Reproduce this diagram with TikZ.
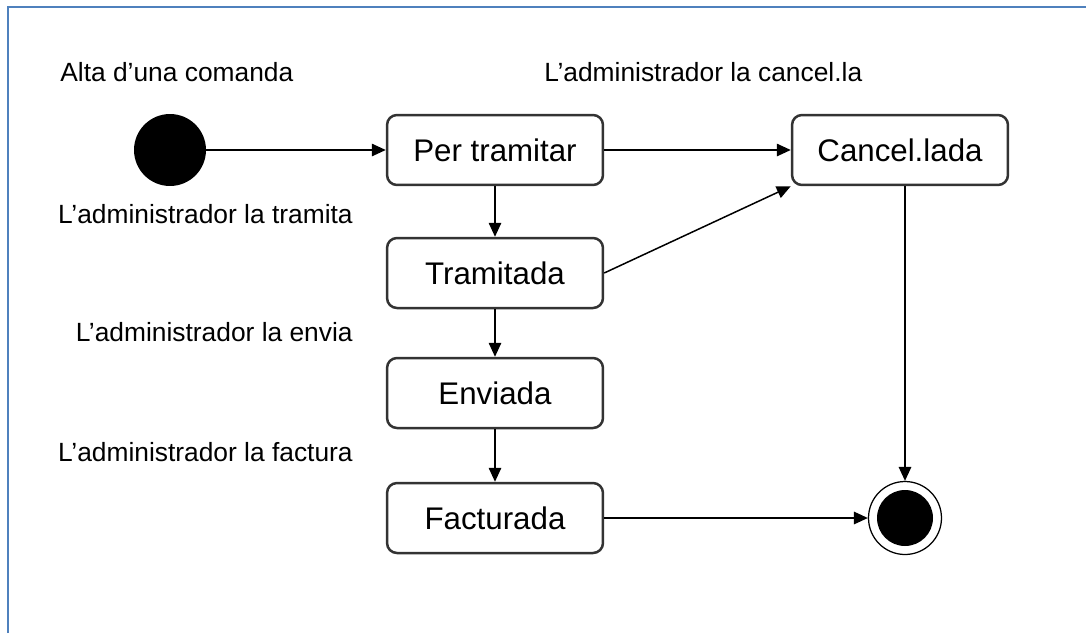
\documentclass[tikz,border=0pt]{standalone}
\usepackage{fontspec}
\setmainfont{Liberation Sans}
\usetikzlibrary{arrows.meta}
\usetikzlibrary{positioning}
\definecolor{framecolor}{HTML}{4F81BD}
\definecolor{boxline}{HTML}{333333}
\tikzstyle{state}=[draw=boxline, line width=0.5mm, rounded corners=2mm, minimum width=4.32cm, minimum height=1.4cm, inner sep=0mm, font={\fontsize{17.8}{20}\selectfont}]
\tikzstyle{label}=[inner sep=0mm, font={\fontsize{15}{17}\selectfont}]
\tikzstyle{link}=[-{Triangle[length=2.8mm, width=2.5mm]}, line width=.3mm]

\begin{document}
\begin{tikzpicture}[x=0.02cm, y=-0.02cm]

    \useasboundingbox (0, 0) rectangle (1086, 633);
    \draw[framecolor, line width=.4mm] (8, 633) -- (8, 7) -- (1086, 7);

    \node[circle, fill=black, minimum size=1.44cm, inner sep=0mm] (start) at (170, 150) {};

    \node[state] (pending) at (495, 150) {Per tramitar};
    \node[state] (processed) at (495, 273) {Tramitada};
    \node[state] (sent) at (495, 393) {Enviada};
    \node[state] (invoiced) at (495, 518) {Facturada};
    \node[state] (cancelled) at (900, 150) {Cancel.lada};

    \node[circle, draw=black, line width=.25mm, minimum size=1.46cm, inner sep=0mm] (end) at (905, 518) {};
    \node[circle, fill=black, minimum size=1.12cm, inner sep=0mm] (endin) at (end) {};

    \node[label, anchor=west] (create) at (60, 72) {Alta d'una comanda};
    \node[label, anchor=east] (process) at (353, 214) {L'administrador la tramita};
    \node[label, anchor=east] (send) at (353, 332) {L'administrador la envia};
    \node[label, anchor=east] (invoice) at (353, 452) {L'administrador la factura};
    \node[label, anchor=west] (cancel) at (544, 72) {L'administrador la cancel.la};

    \draw[link] (start) -- (pending);
    \draw[link] (pending) -- (cancelled);
    \draw[link] (pending) -- (processed);
    \draw[link] (processed.east) -- (cancelled.south west);
    \draw[link] (processed) -- (sent);
    \draw[link] (sent) -- (invoiced);
    \draw[link] (invoiced) -- (end);
    \draw[link] (cancelled.south -| end.north) -- (end.north);

\end{tikzpicture}
\end{document}
